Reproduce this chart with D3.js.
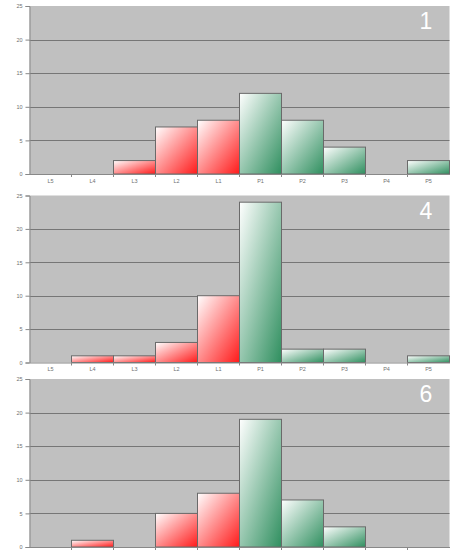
<!DOCTYPE html>
<html><head><meta charset="utf-8">
<script src="https://cdn.jsdelivr.net/npm/d3@7"></script>
<style>html,body{margin:0;padding:0;background:#fff;}</style>
</head><body>
<script>
const categories = ["L5","L4","L3","L2","L1","P1","P2","P3","P4","P5"];
const panelLabels = ["1","4","6"];
const values1 = [0,0,2,7,8,12,8,4,0,2];
const values2 = [0,1,1,3,10,24,2,2,0,1];
const values3 = [0,1,0,5,8,19,7,3,0,0];
const yTicks = [0,5,10,15,20,25];
const seriesList = [values1, values2, values3];

const W = 454, H = 551;
const svg = d3.select("body").append("svg").attr("width", W).attr("height", H);
const defs = svg.append("defs");
function grad(id, color){
  const g = defs.append("linearGradient").attr("id", id)
    .attr("x1",0).attr("y1",0).attr("x2",1).attr("y2",1);
  g.append("stop").attr("offset","0%").attr("stop-color","#ffffff");
  g.append("stop").attr("offset","100%").attr("stop-color",color);
}
grad("gRed", "#ff1a1a");
grad("gGreen", "#2f8f5f");

const left = 29.5, right = 449.5;
const panels = [{top:6, bottom:174, labels:true},{top:195.5, bottom:362.5, labels:true},{top:379, bottom:547, labels:false}];

const x = d3.scaleBand().domain(categories).range([left, right]).padding(0);

panels.forEach((p, i) => {
  const vals = seriesList[i];
  const y = d3.scaleLinear().domain([0,25]).range([p.bottom, p.top]);
  const g = svg.append("g");
  g.append("rect").attr("x", left).attr("y", p.top).attr("width", right-left)
    .attr("height", p.bottom-p.top).attr("fill", "#c0c0c0");
  g.selectAll("line.grid").data(yTicks.filter(t=>t>0 && t<25)).enter().append("line")
    .attr("x1", left).attr("x2", right)
    .attr("y1", d=>Math.round(y(d))+0.5).attr("y2", d=>Math.round(y(d))+0.5)
    .attr("stroke", "#767676").attr("stroke-width", 1);
  g.selectAll("rect.bar").data(categories.map((c,k)=>({c, v: vals[k]})).filter(d=>d.v>0))
    .enter().append("rect")
    .attr("x", d=>x(d.c)).attr("width", x.bandwidth())
    .attr("y", d=>y(d.v)).attr("height", d=>y(0)-y(d.v))
    .attr("fill", d=>d.c[0]==="L" ? "url(#gRed)" : "url(#gGreen)")
    .attr("stroke", "#6a6a6a").attr("stroke-width", 1);
  const ya = d3.axisLeft(y).tickValues(yTicks).tickSize(4).tickPadding(3);
  const yg = g.append("g").attr("transform", `translate(${left},0)`).call(ya);
  yg.select(".domain").attr("stroke", "#888");
  yg.selectAll(".tick line").attr("stroke", "#888");
  yg.selectAll("text").attr("fill", "#707070").attr("font-size", 5.5).attr("font-family", "Arial, Liberation Sans, sans-serif");
  const xa = d3.axisBottom(x).tickSize(0).tickPadding(5);
  const xg = g.append("g").attr("transform", `translate(0,${p.bottom})`).call(xa);
  xg.select(".domain").attr("stroke", "#888");
  if (p.labels) {
    xg.selectAll("text").attr("fill", "#707070").attr("font-size", 5.5).attr("font-family", "Arial, Liberation Sans, sans-serif");
  } else {
    xg.selectAll("text").remove();
  }
  g.selectAll("line.xt").data(categories.slice(1)).enter().append("line")
    .attr("x1", d=>x(d)).attr("x2", d=>x(d))
    .attr("y1", p.bottom).attr("y2", p.bottom+3).attr("stroke", "#888");
  g.append("text").attr("x", 426).attr("y", p.top+23).attr("text-anchor","middle")
    .attr("fill", "#ffffff").attr("font-size", 23)
    .attr("font-family", "Arial, Liberation Sans, sans-serif").text(panelLabels[i]);
});
</script>
</body></html>
